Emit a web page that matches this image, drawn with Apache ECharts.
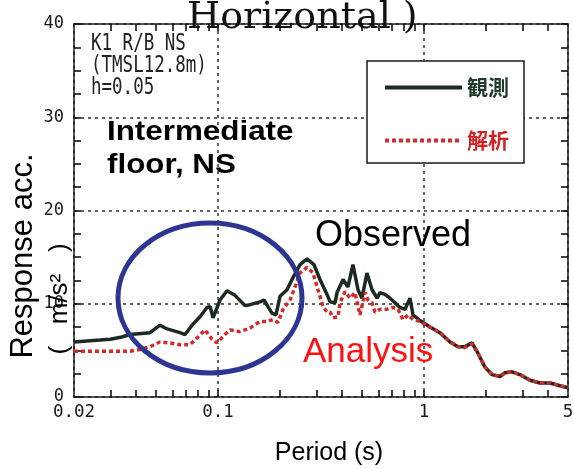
<!DOCTYPE html>
<html><head><meta charset="utf-8">
<script src="https://cdn.jsdelivr.net/npm/echarts@6/dist/echarts.min.js"></script>
<style>html,body{margin:0;padding:0;background:#fff}#c{width:574px;height:469px}</style>
</head><body><div id="c"></div>
<script>
// Observed (観測)
const obsT = [0.02,0.0267,0.03,0.0337,0.0374,0.0468,0.0523,0.0566,0.0654,0.0692,0.0748,0.0818,0.0884,0.0915,0.0946,0.1023,0.1106,0.1209,0.1352,0.143,0.1599,0.1672,0.1828,0.1912,0.2,0.2163,0.2312,0.25,0.2704,0.2924,0.3126,0.3383,0.3499,0.3698,0.3782,0.4045,0.4276,0.452,0.4782,0.5,0.5286,0.5592,0.5913,0.6114,0.6468,0.6839,0.7231,0.7646,0.8087,0.855,0.8842,0.9563,1.069,1.196,1.337,1.462,1.581,1.71,1.828,1.977,2.138,2.338,2.473,2.673,2.924,3.271,3.657,4.09,4.573,5.0];
const obsV = [5.9,6.1,6.2,6.4,6.7,6.9,7.7,7.3,6.9,6.7,7.7,8.6,9.6,9.7,8.5,10.4,11.4,10.9,9.8,9.9,10.2,10.4,9.0,8.8,10.8,11.5,12.8,14.2,14.8,14.2,12.6,11.0,10.2,10.1,11.2,12.6,11.8,14.2,11.5,10.6,13.3,11.5,10.6,11.2,11.0,10.6,10.1,9.6,9.4,10.6,8.8,8.2,7.5,6.9,5.9,5.4,5.4,5.8,4.7,3.2,2.4,2.2,2.6,2.7,2.4,1.8,1.5,1.5,1.2,1.0];
// Analysis (解析)
const anaT = [0.02,0.0267,0.0374,0.0418,0.0468,0.0523,0.0585,0.0654,0.0729,0.0773,0.0865,0.0884,0.0935,0.0989,0.1081,0.1144,0.1279,0.143,0.1599,0.1729,0.1849,0.1955,0.2069,0.2237,0.2365,0.25,0.2704,0.2891,0.3058,0.3234,0.3383,0.3499,0.3617,0.3824,0.391,0.4136,0.4373,0.4624,0.4888,0.5171,0.5346,0.5592,0.5782,0.6114,0.6613,0.7072,0.7478,0.7907,0.8362,0.8842,0.9563,1.069,1.196,1.337,1.462,1.581,1.71,1.828,1.977,2.138,2.338,2.473,2.673,2.924,3.271,3.657,4.09,4.573,5.0];
const anaV = [4.9,4.9,4.9,5.1,5.4,5.9,5.8,5.6,5.6,6.1,7.2,7.4,6.2,5.8,6.7,7.2,7.0,7.4,8.1,8.1,8.3,8.0,9.4,10.4,11.8,13.3,13.9,13.3,11.5,9.7,9.1,9.1,8.5,8.6,10.1,11.3,10.6,11.2,8.8,11.2,10.4,10.1,9.1,9.4,9.4,9.6,9.4,8.3,8.8,8.3,8.1,7.5,6.9,5.9,5.4,5.3,5.7,4.7,3.2,2.4,2.2,2.6,2.7,2.4,1.8,1.5,1.5,1.2,1.0];
// axis ticks / labels
const xMin = 0.02, xMax = 5;
const xTickValues = [0.03,0.04,0.05,0.06,0.07,0.08,0.09,0.1,0.2,0.3,0.4,0.5,0.6,0.7,0.8,0.9,1,2,3,4];
const yMin = 0, yMax = 40, yStep = 10;

const chart = echarts.init(document.getElementById('c'), null, {renderer: 'canvas'});
const black = '#1a1a1a';
const tickColor = '#111111';
const tickWidth = 1.6;
const monoFont = '"DejaVu Sans Mono", "Liberation Mono", monospace';
const sans = '"Liberation Sans", Arial, sans-serif';
const zip = (a, b) => a.map((t, i) => [t, b[i]]);

const tickAxis = (pos) => ({
  type: 'log', logBase: 10, min: xMin, max: xMax, position: pos,
  axisLine: {show: pos === 'top', onZero: false, lineStyle: {color: black, width: 1.5}},
  axisTick: {show: true, inside: true, length: 7, customValues: xTickValues, lineStyle: {color: tickColor, width: tickWidth, type: 'solid'}},
  axisLabel: {show: false}, splitLine: {show: false}
});
const yTicks = () => ({show: true, inside: true, length: 7, lineStyle: {color: tickColor, width: tickWidth, type: 'solid'}});
const yMinor = () => ({show: true, splitNumber: 4, length: 7, lineStyle: {color: tickColor, width: tickWidth, type: 'solid'}});

const ann = (o) => Object.assign({zlevel: 1}, o);

chart.setOption({
  backgroundColor: '#ffffff',
  animation: false,
  grid: {left: 74, right: 6, top: 24, bottom: 72, containLabel: false, outerBoundsMode: 'none'},
  legend: {
    orient: 'vertical', left: 367, top: 61,
    padding: [16, 15, 12, 16], itemGap: 32, itemWidth: 77, itemHeight: 14,
    borderColor: black, borderWidth: 1.5, backgroundColor: '#fff',
    itemStyle: {opacity: 0, color: 'rgba(0,0,0,0)', borderWidth: 0},
    lineStyle: {width: 4},
    textStyle: {fontFamily: '"Noto Sans CJK JP", sans-serif', fontSize: 21, fontWeight: 'bold'},
    data: [
      {name: '観測', textStyle: {color: '#1f3a28'}},
      {name: '解析', textStyle: {color: '#d42020'}}
    ]
  },
  xAxis: [
    {
      type: 'log', logBase: 10, min: xMin, max: xMax, position: 'bottom',
      axisLine: {show: true, onZero: false, lineStyle: {color: black, width: 1.5}},
      axisTick: {show: false},
      axisLabel: {
        margin: 6, color: black, fontFamily: monoFont, fontSize: 17.5,
        formatter: v => String(+(+v).toPrecision(3))
      },
      splitLine: {show: true, lineStyle: {color: '#333', width: 1.5, type: [3, 4]}},
      name: 'Period (s)', nameLocation: 'middle', nameGap: 44,
      nameTextStyle: {fontFamily: sans, fontSize: 25, color: '#000', padding: [0, 0, 0, 16]}
    },
    tickAxis('bottom'),
    tickAxis('top')
  ],
  yAxis: [
    {
      type: 'value', min: yMin, max: yMax, interval: yStep, position: 'left',
      axisLine: {show: true, onZero: false, lineStyle: {color: black, width: 1.5}},
      axisTick: yTicks(), minorTick: yMinor(),
      axisLabel: {margin: 10, color: black, fontFamily: monoFont, fontSize: 17},
      splitLine: {show: true, lineStyle: {color: '#333', width: 1.5, type: [3, 4]}}
    },
    {
      type: 'value', min: yMin, max: yMax, interval: yStep, position: 'right',
      axisLine: {show: true, onZero: false, lineStyle: {color: black, width: 1.5}},
      axisTick: yTicks(), minorTick: yMinor(),
      axisLabel: {show: false}, splitLine: {show: false}
    }
  ],
  series: [
    {
      name: '観測', type: 'line', xAxisIndex: 0, yAxisIndex: 0,
      data: zip(obsT, obsV), symbol: 'none', showSymbol: false,
      lineStyle: {color: '#1c2a20', width: 3.5}, itemStyle: {color: '#1c2a20'}, z: 3
    },
    {
      name: '解析', type: 'line', xAxisIndex: 0, yAxisIndex: 0,
      data: zip(anaT, anaV), symbol: 'none', showSymbol: false,
      lineStyle: {color: '#d42a2a', width: 3.5, type: [4, 3]}, itemStyle: {color: '#d42a2a'}, z: 4
    }
  ],
  graphic: [
    ann({type: 'text', x: 187, y: 18, z: 10,
     style: {text: 'Horizontal )', font: '38px "DejaVu Serif", serif', fill: '#111', verticalAlign: 'middle'}}),
    ann({type: 'text', x: 91, y: 44, scaleY: 1.3, z: 10,
     style: {text: 'K1 R/B NS', font: '17.5px ' + monoFont, fill: '#222', verticalAlign: 'middle'}}),
    ann({type: 'text', x: 91, y: 66, scaleY: 1.3, z: 10,
     style: {text: '(TMSL12.8m)', font: '17.5px ' + monoFont, fill: '#222', verticalAlign: 'middle'}}),
    ann({type: 'text', x: 91, y: 88, scaleY: 1.3, z: 10,
     style: {text: 'h=0.05', font: '17.5px ' + monoFont, fill: '#222', verticalAlign: 'middle'}}),
    ann({type: 'text', x: 107, y: 132, scaleX: 1.12, z: 10,
     style: {text: 'Intermediate', font: 'bold 28px ' + sans, fill: '#000', verticalAlign: 'middle'}}),
    ann({type: 'text', x: 107, y: 165, scaleX: 1.12, z: 10,
     style: {text: 'floor, NS', font: 'bold 28px ' + sans, fill: '#000', verticalAlign: 'middle'}}),
    ann({type: 'text', x: 315, y: 236, z: 10,
     style: {text: 'Observed', font: '36px ' + sans, fill: '#000', verticalAlign: 'middle'}}),
    ann({type: 'text', x: 303, y: 352, z: 10,
     style: {text: 'Analysis', font: '35px ' + sans, fill: '#ff1010', verticalAlign: 'middle'}}),
    ann({type: 'text', x: 23, y: 256, rotation: Math.PI / 2, z: 10,
     style: {text: 'Response acc.', font: '31px ' + sans, fill: '#000', align: 'center', verticalAlign: 'middle'}}),
    ann({type: 'text', x: 60, y: 299, rotation: Math.PI / 2, z: 10,
     style: {text: '(   m/s²   )', font: '26px ' + sans, fill: '#000', align: 'center', verticalAlign: 'middle'}}),
    ann({type: 'ellipse', z: 20,
     shape: {cx: 210, cy: 298, rx: 92, ry: 75},
     style: {fill: 'none', stroke: '#2c3590', lineWidth: 5}})
  ]
});
</script></body></html>
